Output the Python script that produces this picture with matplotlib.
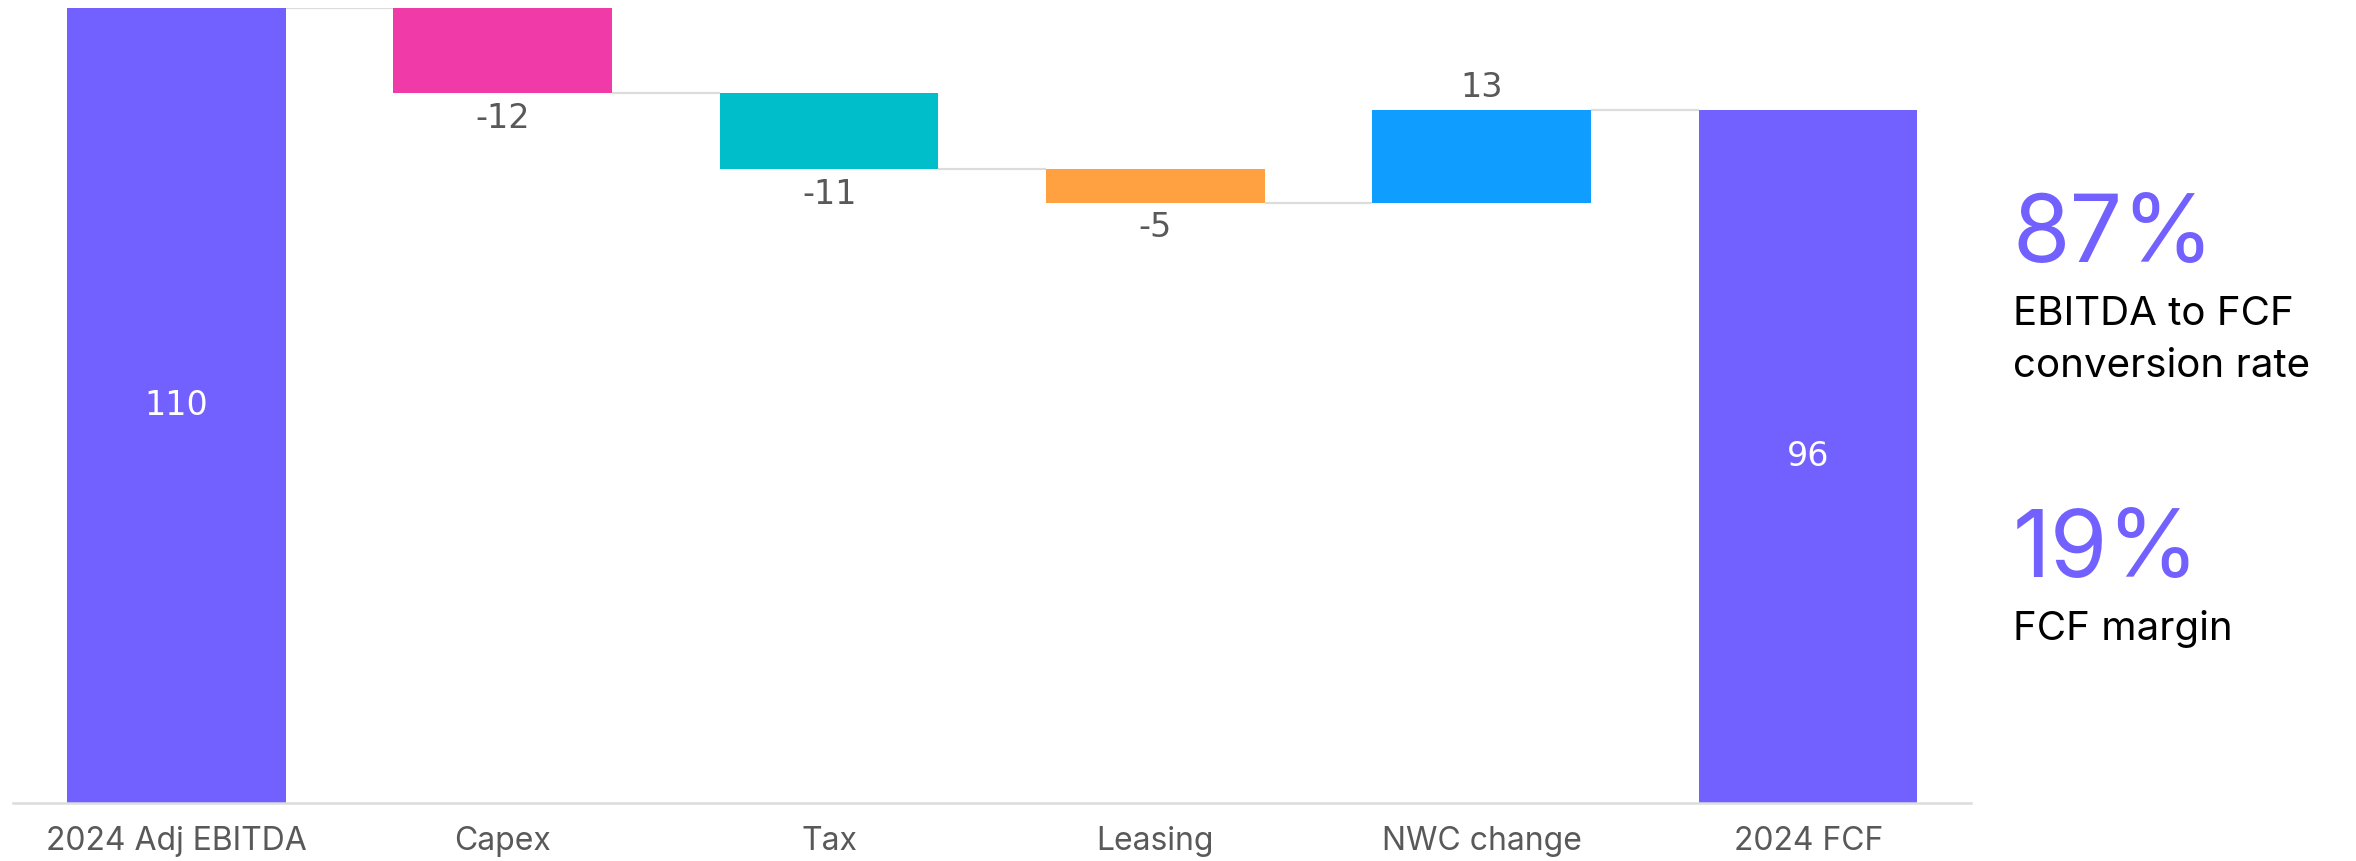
import numpy as np
import matplotlib
matplotlib.use("Agg")
import matplotlib.pyplot as plt

# --- data ---
CATEGORIES = ["2024 Adj EBITDA", "Capex", "Tax", "Leasing", "NWC change", "2024 FCF"]
START_VALUE = 110.2                       # 2024 Adj EBITDA
STEP_VALUES = [-11.8, -10.6, -4.6, 12.9]  # Capex, Tax, Leasing, NWC change
KPI_VALUES = ["87%", "19%"]
KPI_LABELS = [["EBITDA to FCF", "conversion rate"], ["FCF margin"]]

# --- style ---
TOTAL_COLOR = "#7261FF"
STEP_COLORS = ["#F03AA7", "#00BFCA", "#FFA141", "#0F9DFF"]
LABEL_GREY = "#595959"
LINE_GREY = "#DCDCDC"
BAR_WIDTH = 0.67
VALUE_FONT = "DejaVu Sans"

W, H, DPI = 2356, 861, 100
fig = plt.figure(figsize=(W / DPI, H / DPI), dpi=DPI)
ax = fig.add_axes([13.3 / W, 58.5 / H, 1958 / W, 794.5 / H])

# waterfall geometry
levels = START_VALUE + np.cumsum(STEP_VALUES)
end_value = levels[-1]
starts = np.concatenate([[START_VALUE], levels[:-1]])
x = np.arange(len(CATEGORIES))

# totals
for xi, val in [(x[0], START_VALUE), (x[-1], end_value)]:
    ax.bar(xi, val, width=BAR_WIDTH, color=TOTAL_COLOR, zorder=2)
    ax.text(xi, val / 2, f"{val:.0f}", ha="center", va="center", color="white",
            fontsize=24, family=VALUE_FONT, zorder=3)

# steps
for i, (s, d, c) in enumerate(zip(starts, STEP_VALUES, STEP_COLORS)):
    xi = x[i + 1]
    off = -18 if d < 0 else 16
    ax.bar(xi, d, bottom=s, width=BAR_WIDTH, color=c, zorder=2)
    ax.annotate(f"{d:.0f}", (xi, s + d), xytext=(0, off), textcoords="offset points",
                ha="center", va="center", color=LABEL_GREY, fontsize=24, family=VALUE_FONT)

# connectors between bars
conn_levels = np.concatenate([[START_VALUE], levels])
for i, lv in enumerate(conn_levels):
    ax.plot([x[i] + BAR_WIDTH / 2, x[i + 1] - BAR_WIDTH / 2], [lv, lv],
            color=LINE_GREY, lw=1.6, zorder=1, solid_capstyle="butt")

ax.set_xlim(-0.5, len(CATEGORIES) - 0.5)
ax.set_ylim(0, START_VALUE)
ax.set_xticks(x, CATEGORIES)
ax.tick_params(axis="x", length=0, pad=17, labelsize=23, labelcolor=LABEL_GREY)
for lbl in ax.get_xticklabels():
    lbl.set_family("Inter")
ax.set_yticks([])
for side in ["top", "right", "left"]:
    ax.spines[side].set_visible(False)
ax.spines["bottom"].set_color(LINE_GREY)
ax.spines["bottom"].set_linewidth(1.8)

# KPI block on the right
kpi_x = 2013 / W
kpi_base = [262, 577]
for val, lines, yb in zip(KPI_VALUES, KPI_LABELS, kpi_base):
    fig.text(kpi_x, 1 - yb / H, val, color=TOTAL_COLOR, fontsize=67, family="Inter",
             ha="left", va="baseline")
    for j, line in enumerate(lines):
        fig.text(kpi_x, 1 - (yb + 63 + 52 * j) / H, line, color="black",
                 fontsize=29, family="Inter", ha="left", va="baseline")

fig.savefig("out.png", dpi=DPI)
